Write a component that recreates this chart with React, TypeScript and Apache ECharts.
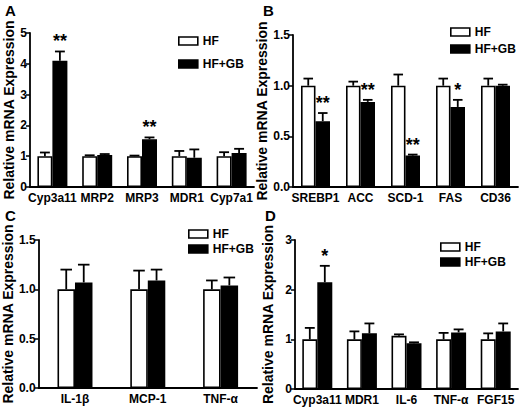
import React, { useEffect, useRef } from "react";
import * as echarts from "echarts";

// Panel A
const catsA = ["Cyp3a11", "MRP2", "MRP3", "MDR1", "Cyp7a1"];
const hfA = [1, 1, 1, 1, 1];
const hfErrA = [0.12, 0.03, 0.02, 0.17, 0.13];
const gbA = [4.1, 1.04, 1.55, 0.95, 1.1];
const gbErrA = [0.3, 0.03, 0.06, 0.27, 0.14];
const sigA = ["**", "", "**", "", ""];
const axisA = [0, 5, 1];

// Panel B
const catsB = ["SREBP1", "ACC", "SCD-1", "FAS", "CD36"];
const hfB = [1, 1, 1, 1, 1];
const hfErrB = [0.07, 0.04, 0.11, 0.07, 0.07];
const gbB = [0.65, 0.84, 0.31, 0.79, 1.0];
const gbErrB = [0.08, 0.02, 0.01, 0.07, 0.01];
const sigB = ["**", "**", "**", "*", ""];
const axisB = [0, 1.5, 0.5];

// Panel C
const catsC = ["IL-1β", "MCP-1", "TNF-α"];
const hfC = [1, 1, 1];
const hfErrC = [0.2, 0.19, 0.09];
const gbC = [1.07, 1.09, 1.04];
const gbErrC = [0.18, 0.11, 0.08];
const sigC = ["", "", ""];
const axisC = [0, 1.5, 0.5];

// Panel D
const catsD = ["Cyp3a11", "MDR1", "IL-6", "TNF-α", "FGF15"];
const hfD = [1, 1, 1.07, 1, 1];
const hfErrD = [0.23, 0.16, 0.03, 0.13, 0.12];
const gbD = [2.15, 1.12, 0.92, 1.14, 1.16];
const gbErrD = [0.33, 0.2, 0.02, 0.06, 0.16];
const sigD = ["*", "", "", "", ""];
const axisD = [0, 3, 1];

const seriesNames = ["HF", "HF+GB"];
const yName = "Relative mRNA Expression";
const FONT = '"Liberation Sans", Arial, sans-serif';

type Panel = {
  cats: string[]; hf: number[]; hfErr: number[]; gb: number[]; gbErr: number[];
  sig: string[]; axis: number[]; decimals: number;
  grid: { left: number; top: number; width: number; height: number };
  bw: number; nameGap: number;
  legend: { left: number; top: number; gap: number };
  letter: string; letterPos: [number, number];
};

const panels: Panel[] = [
  { cats: catsA, hf: hfA, hfErr: hfErrA, gb: gbA, gbErr: gbErrA, sig: sigA, axis: axisA, decimals: 0,
    grid: { left: 30, top: 33, width: 224, height: 154 }, bw: 15, nameGap: 13,
    legend: { left: 178, top: 35, gap: 11 }, letter: "A", letterPos: [5, 3] },
  { cats: catsB, hf: hfB, hfErr: hfErrB, gb: gbB, gbErr: gbErrB, sig: sigB, axis: axisB, decimals: 1,
    grid: { left: 293, top: 35, width: 225, height: 152 }, bw: 14.5, nameGap: 18,
    legend: { left: 450, top: 26, gap: 5 }, letter: "B", letterPos: [263, 3] },
  { cats: catsC, hf: hfC, hfErr: hfErrC, gb: gbC, gbErr: gbErrC, sig: sigC, axis: axisC, decimals: 1,
    grid: { left: 35, top: 240, width: 222, height: 148 }, bw: 17.5, nameGap: 19,
    legend: { left: 188, top: 228, gap: 3 }, letter: "C", letterPos: [5, 208] },
  { cats: catsD, hf: hfD, hfErr: hfErrD, gb: gbD, gbErr: gbErrD, sig: sigD, axis: axisD, decimals: 0,
    grid: { left: 295, top: 240, width: 223, height: 149 }, bw: 15, nameGap: 20,
    legend: { left: 440, top: 241, gap: 3 }, letter: "D", letterPos: [265, 208] },
];

function errSeries(gi: number, vals: number[], errs: number[], side: number, bw: number, sig: string[] | null) {
  return {
    type: "custom",
    xAxisIndex: gi,
    yAxisIndex: gi,
    z: 5,
    silent: true,
    data: vals.map((v, i) => [i, v, errs[i]]),
    renderItem: (params: any, api: any) => {
      const i = api.value(0);
      const v = api.value(1);
      const e = api.value(2);
      const base = api.coord([i, v]);
      const top = api.coord([i, v + e]);
      const x = base[0] + (side * bw) / 2;
      const cap = bw * 0.33;
      const children: any[] = [
        { type: "line", shape: { x1: x, y1: base[1], x2: x, y2: top[1] }, style: { stroke: "#000", lineWidth: 1.8 } },
        { type: "line", shape: { x1: x - cap, y1: top[1], x2: x + cap, y2: top[1] }, style: { stroke: "#000", lineWidth: 1.8 } },
      ];
      const s = sig ? sig[params.dataIndex] : "";
      if (s) {
        children.push({
          type: "text",
          x,
          y: top[1] - 1,
          style: { text: s, align: "center", verticalAlign: "bottom", font: `bold 18px ${FONT}`, fill: "#000" },
        });
      }
      return { type: "group", children };
    },
  };
}

export default function App() {
  const ref = useRef<HTMLDivElement>(null);
  useEffect(() => {
    if (!ref.current) return;
    const chart = echarts.init(ref.current, null, { renderer: "svg" });
    const grid: any[] = [];
    const xAxis: any[] = [];
    const yAxis: any[] = [];
    const series: any[] = [];
    const legend: any[] = [];
    const graphic: any[] = [];
    panels.forEach((p, gi) => {
      grid.push({ ...p.grid, containLabel: false });
      xAxis.push({
        type: "category",
        gridIndex: gi,
        data: p.cats,
        axisLine: { lineStyle: { color: "#000", width: 1.8 } },
        axisTick: { alignWithLabel: true, length: 4, lineStyle: { color: "#000", width: 1.5 } },
        axisLabel: { interval: 0, color: "#000", fontFamily: FONT, fontWeight: "bold", fontSize: 12, margin: 5 },
      });
      yAxis.push({
        type: "value",
        gridIndex: gi,
        min: p.axis[0],
        max: p.axis[1],
        interval: p.axis[2],
        name: yName,
        nameLocation: "middle",
        nameGap: p.nameGap,
        nameTextStyle: { color: "#000", fontFamily: FONT, fontWeight: "bold", fontSize: 14 },
        splitLine: { show: false },
        axisLine: { show: true, lineStyle: { color: "#000", width: 1.8 } },
        axisTick: { show: true, length: 4, lineStyle: { color: "#000", width: 1.5 } },
        axisLabel: {
          color: "#000", fontFamily: FONT, fontWeight: "bold", fontSize: 12, margin: 3,
          formatter: (v: number) => v.toFixed(p.decimals),
        },
      });
      series.push({
        type: "bar", name: seriesNames[0], xAxisIndex: gi, yAxisIndex: gi, data: p.hf,
        barWidth: p.bw, barGap: "0%",
        itemStyle: { color: "#fff", borderColor: "#000", borderWidth: 1.6 },
      });
      series.push({
        type: "bar", name: seriesNames[1], xAxisIndex: gi, yAxisIndex: gi, data: p.gb,
        barWidth: p.bw, barGap: "0%",
        itemStyle: { color: "#000", borderColor: "#000", borderWidth: 1.6 },
      });
      series.push(errSeries(gi, p.hf, p.hfErr, -1, p.bw, null));
      series.push(errSeries(gi, p.gb, p.gbErr, 1, p.bw, p.sig));
      legend.push({
        left: p.legend.left,
        top: p.legend.top,
        padding: 0,
        orient: "vertical",
        itemWidth: 19,
        itemHeight: 8,
        itemGap: p.legend.gap,
        selectedMode: false,
        icon: "rect",
        textStyle: { color: "#000", fontFamily: FONT, fontWeight: "bold", fontSize: 12 },
        data: [
          { name: seriesNames[0], itemStyle: { color: "#fff", borderColor: "#000", borderWidth: 1.6 } },
          { name: seriesNames[1], itemStyle: { color: "#000", borderColor: "#000", borderWidth: 1.6 } },
        ],
      });
      graphic.push({
        type: "text",
        left: p.letterPos[0],
        top: p.letterPos[1],
        style: { text: p.letter, font: `bold 15px ${FONT}`, fill: "#000" },
      });
    });
    chart.setOption({
      animation: false,
      backgroundColor: "#fff",
      grid,
      xAxis,
      yAxis,
      series,
      legend,
      graphic,
    });
    return () => chart.dispose();
  }, []);
  return <div ref={ref} style={{ position: "absolute", left: 0, top: 0, width: 520, height: 408 }} />;
}
